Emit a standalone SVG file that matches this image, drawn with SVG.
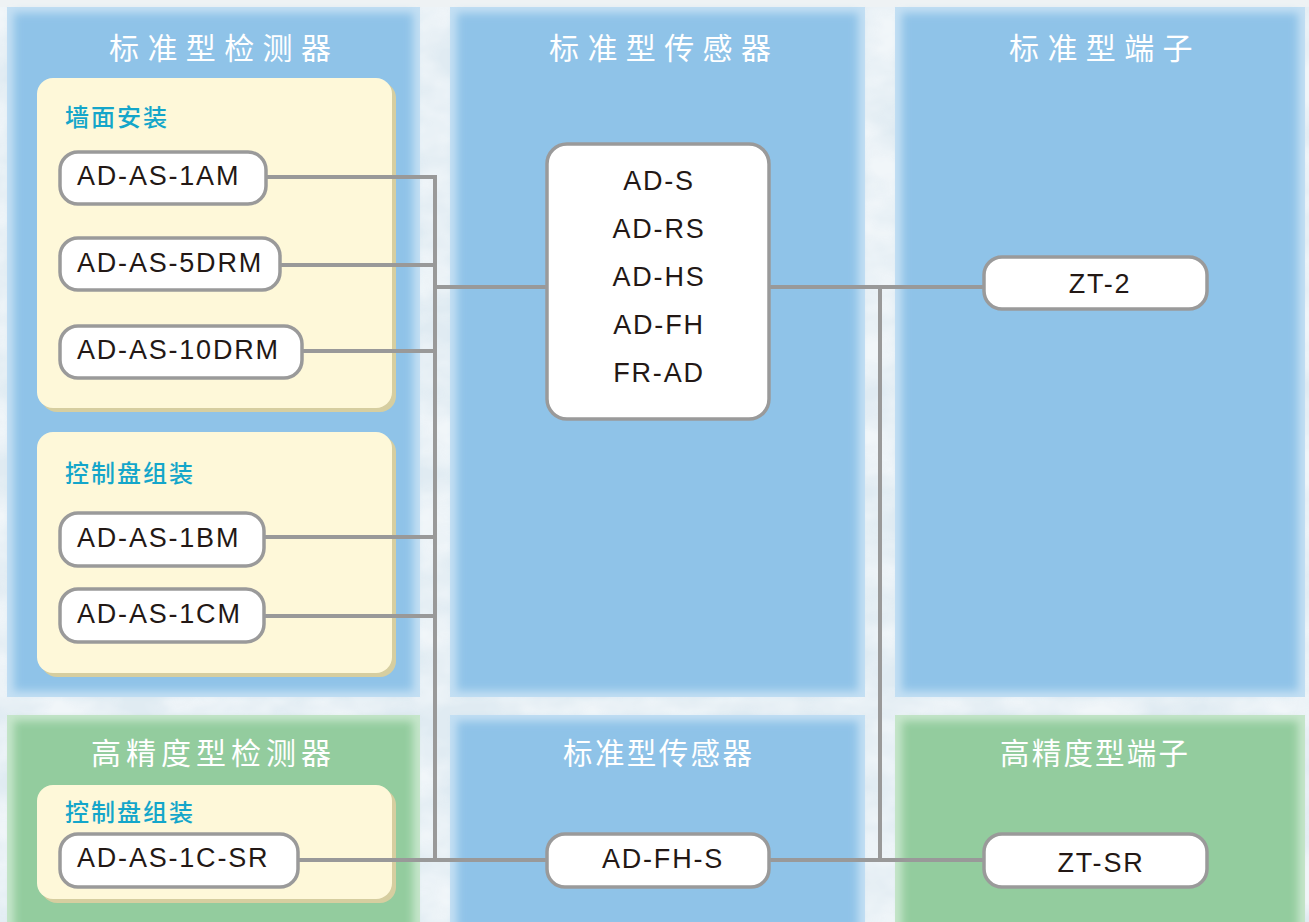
<svg xmlns="http://www.w3.org/2000/svg" width="1309" height="922" viewBox="0 0 1309 922">
<defs>
<style>
.bg{fill:#e0ebf2}
.edgeB{fill:#c3dff3}
.edgeG{fill:#c6e6cb}
.coreB{fill:#8fc3e8}
.coreG{fill:#93cc9e}
.sub{fill:#fef8d9}
.subsh{fill:#d6cea0}
.head{font-family:"Noto Sans CJK SC","Noto Sans",sans-serif;font-weight:400;fill:#ffffff}
.lab{font-family:"Noto Sans CJK SC","Noto Sans",sans-serif;font-weight:500;fill:#14a6ca;font-size:24px;letter-spacing:2px}
.node{fill:#ffffff;stroke:#9a9a9a;stroke-width:3.5}
.txt{font-family:"Liberation Sans",Arial,sans-serif;font-size:27px;fill:#231815;letter-spacing:1.8px}
.conn{stroke:#999999;stroke-width:4;fill:none}
</style>
<filter id="soft" x="-5%" y="-5%" width="110%" height="110%">
<feGaussianBlur stdDeviation="4"/>
</filter>
<filter id="tex" x="0" y="0" width="100%" height="100%">
<feTurbulence type="fractalNoise" baseFrequency="0.012 0.02" numOctaves="4" seed="7" result="n"/>
<feColorMatrix type="matrix" in="n" values="0 0 0 0 1  0 0 0 0 1  0 0 0 0 1  0 0 0 -2.2 1.6"/>
</filter>
</defs>

<g id="background">
<rect class="bg" x="0" y="0" width="1309" height="922"/>
<rect x="0" y="0" width="1309" height="922" filter="url(#tex)" opacity="0.55"/>
<rect x="0" y="0" width="1309" height="7" fill="#eef2f4"/>
</g>

<g id="panels">
<g id="panel-std-detector">
<rect class="edgeB" x="7" y="7" width="413" height="690"/>
<rect class="coreB" x="14" y="13" width="399" height="678" filter="url(#soft)"/>
</g>
<g id="panel-std-sensor">
<rect class="edgeB" x="450" y="7" width="415" height="690"/>
<rect class="coreB" x="457" y="13" width="401" height="678" filter="url(#soft)"/>
</g>
<g id="panel-std-terminal">
<rect class="edgeB" x="895" y="7" width="410" height="690"/>
<rect class="coreB" x="902" y="13" width="396" height="678" filter="url(#soft)"/>
</g>
<g id="panel-hp-detector">
<rect class="edgeG" x="7" y="715" width="413" height="220"/>
<rect class="coreG" x="14" y="721" width="399" height="210" filter="url(#soft)"/>
</g>
<g id="panel-std-sensor-2">
<rect class="edgeB" x="450" y="715" width="415" height="220"/>
<rect class="coreB" x="457" y="721" width="401" height="210" filter="url(#soft)"/>
</g>
<g id="panel-hp-terminal">
<rect class="edgeG" x="895" y="715" width="410" height="220"/>
<rect class="coreG" x="902" y="721" width="396" height="210" filter="url(#soft)"/>
</g>
</g>

<g id="subpanels">
<g id="sub-wall">
<rect class="subsh" x="41" y="82" width="355" height="330" rx="16"/>
<rect class="sub" x="37" y="78" width="355" height="330" rx="16"/>
<text class="lab" x="65" y="126">墙面安装</text>
</g>
<g id="sub-panel1">
<rect class="subsh" x="41" y="436" width="355" height="241" rx="16"/>
<rect class="sub" x="37" y="432" width="355" height="241" rx="16"/>
<text class="lab" x="65" y="482">控制盘组装</text>
</g>
<g id="sub-panel2">
<rect class="subsh" x="41" y="789" width="355" height="114" rx="16"/>
<rect class="sub" x="37" y="785" width="355" height="114" rx="16"/>
<text class="lab" x="65" y="821">控制盘组装</text>
</g>
</g>

<g id="headings">
<text class="head" x="109" y="59" font-size="30" letter-spacing="8.4">标准型检测器</text>
<text class="head" x="549" y="59" font-size="30" letter-spacing="8.4">标准型传感器</text>
<text class="head" x="1009" y="59" font-size="30" letter-spacing="8.4">标准型端子</text>
<text class="head" x="91" y="764" font-size="30" letter-spacing="5">高精度型检测器</text>
<text class="head" x="563" y="764" font-size="29.5" letter-spacing="2.4">标准型传感器</text>
<text class="head" x="1000" y="764" font-size="29.5" letter-spacing="2.2">高精度型端子</text>
</g>

<g id="connectors">
<path class="conn" d="M264 177 H435 M278 265 H435 M300 351 H435 M262 537 H435 M262 616 H435 M296 860 H548 M435 175 V862 M435 287 H548"/>
<path class="conn" d="M768 287 H985 M768 860 H985 M880 285 V862"/>
</g>

<g id="nodes">
<g id="n-ad-as-1am">
<rect class="node" x="60" y="152" width="206" height="52" rx="18"/>
<text class="txt" x="77" y="185">AD-AS-1AM</text>
</g>
<g id="n-ad-as-5drm">
<rect class="node" x="60" y="238" width="220" height="52" rx="18"/>
<text class="txt" x="77" y="272">AD-AS-5DRM</text>
</g>
<g id="n-ad-as-10drm">
<rect class="node" x="60" y="326" width="242" height="52" rx="18"/>
<text class="txt" x="77" y="359">AD-AS-10DRM</text>
</g>
<g id="n-ad-as-1bm">
<rect class="node" x="60" y="513" width="204" height="53" rx="18"/>
<text class="txt" x="77" y="547">AD-AS-1BM</text>
</g>
<g id="n-ad-as-1cm">
<rect class="node" x="60" y="589" width="204" height="53" rx="18"/>
<text class="txt" x="77" y="623">AD-AS-1CM</text>
</g>
<g id="n-ad-as-1c-sr">
<rect class="node" x="60" y="834" width="238" height="53" rx="18"/>
<text class="txt" x="77" y="867">AD-AS-1C-SR</text>
</g>
<g id="n-sensors">
<rect class="node" x="547" y="144" width="222" height="275" rx="20"/>
<text class="txt" x="659" y="190" text-anchor="middle">AD-S</text>
<text class="txt" x="659" y="238" text-anchor="middle">AD-RS</text>
<text class="txt" x="659" y="286" text-anchor="middle">AD-HS</text>
<text class="txt" x="659" y="334" text-anchor="middle">AD-FH</text>
<text class="txt" x="659" y="382" text-anchor="middle">FR-AD</text>
</g>
<g id="n-ad-fh-s">
<rect class="node" x="547" y="834" width="222" height="53" rx="18"/>
<text class="txt" x="663" y="868" text-anchor="middle">AD-FH-S</text>
</g>
<g id="n-zt-2">
<rect class="node" x="984" y="257" width="223" height="52" rx="18"/>
<text class="txt" x="1100" y="293" text-anchor="middle">ZT-2</text>
</g>
<g id="n-zt-sr">
<rect class="node" x="984" y="834" width="223" height="53" rx="18"/>
<text class="txt" x="1101" y="872" text-anchor="middle">ZT-SR</text>
</g>
</g>
</svg>
